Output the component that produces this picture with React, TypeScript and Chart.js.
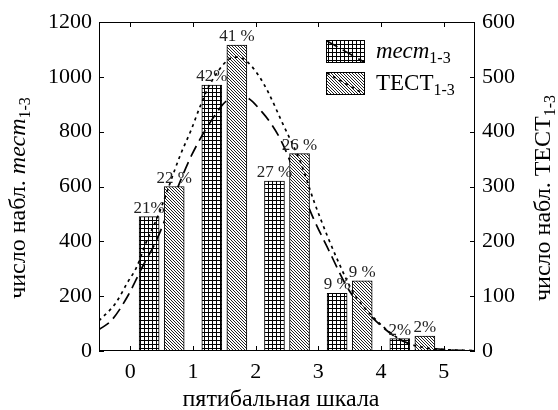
import React, { useEffect, useRef } from "react";
import { Chart, registerables } from "chart.js";

Chart.register(...registerables);

// ---- data ----
const scoreTicks = [0, 1, 2, 3, 4, 5];
const leftTicks = [0, 200, 400, 600, 800, 1000, 1200];
const rightTicks = [0, 100, 200, 300, 400, 500, 600];

const mectX = [0.3, 1.3, 2.3, 3.3, 4.3];
const mectCounts = [490, 970, 620, 210, 45];
const mectPct = ["21%", "42%", "27 %", "9 %", "2%"];

const tectX = [0.7, 1.7, 2.7, 3.7, 4.7];
const tectCounts = [300, 558, 360, 128, 27];
const tectPct = ["22 %", "41 %", "26 %", "9 %", "2%"];

const mectCurveX = [-0.5, -0.3, -0.05, 0.2, 0.42, 0.7, 0.98, 1.3, 1.55, 1.8, 2.1, 2.4, 2.65, 2.9, 3.15, 3.5, 3.87, 4.3, 4.7, 5.1, 5.5];
const mectCurveY = [78, 112, 197, 310, 405, 565, 715, 843, 915, 928, 872, 770, 635, 495, 375, 218, 120, 42, 14, 4, 1];

const tectCurveX = [-0.5, -0.23, -0.05, 0.1, 0.27, 0.43, 0.8, 0.97, 1.11, 1.25, 1.56, 1.72, 1.88, 2.05, 2.2, 2.43, 2.72, 2.93, 3.15, 3.33, 3.55, 3.84, 4.32, 4.7, 5.1, 5.5];
const tectCurveY = [55, 88, 124, 153, 203, 243, 358, 403, 445, 482, 531, 536, 526, 502, 472, 415, 343, 273, 208, 160, 108, 66, 20, 6, 2, 0.5];

const SERIF = '"Liberation Serif", "Times New Roman", "DejaVu Serif", serif';

function makeGridPattern(ctx: CanvasRenderingContext2D) {
  const c = document.createElement("canvas");
  c.width = 4;
  c.height = 4;
  const g = c.getContext("2d")!;
  g.fillStyle = "#fff";
  g.fillRect(0, 0, 4, 4);
  g.fillStyle = "#000";
  g.fillRect(0, 0, 4, 1);
  g.fillRect(0, 0, 1, 4);
  return ctx.createPattern(c, "repeat")!;
}

function makeHatchPattern(ctx: CanvasRenderingContext2D) {
  const c = document.createElement("canvas");
  c.width = 3;
  c.height = 3;
  const g = c.getContext("2d")!;
  g.fillStyle = "#fff";
  g.fillRect(0, 0, 3, 3);
  g.fillStyle = "#222";
  for (let i = 0; i < 3; i++) g.fillRect(i, i, 1, 1);
  return ctx.createPattern(c, "repeat")!;
}

type Part = { t: string; size: number; italic?: boolean; dy?: number };

function richWidth(ctx: CanvasRenderingContext2D, parts: Part[]) {
  let w = 0;
  for (const p of parts) {
    ctx.font = `${p.italic ? "italic " : ""}${p.size}px ${SERIF}`;
    w += ctx.measureText(p.t).width;
  }
  return w;
}

function drawRich(ctx: CanvasRenderingContext2D, parts: Part[], x: number, y: number, center: boolean) {
  let cx = center ? x - richWidth(ctx, parts) / 2 : x;
  ctx.textAlign = "left";
  ctx.textBaseline = "alphabetic";
  for (const p of parts) {
    ctx.font = `${p.italic ? "italic " : ""}${p.size}px ${SERIF}`;
    ctx.fillText(p.t, cx, y + (p.dy || 0));
    cx += ctx.measureText(p.t).width;
  }
}

const decorPlugin = {
  id: "decor",
  afterDatasetsDraw(chart: any) {
    const ctx: CanvasRenderingContext2D = chart.ctx;
    const xs = chart.scales.x;
    const ys = chart.scales.y;
    const ys1 = chart.scales.y1;
    ctx.save();
    ctx.fillStyle = "#222";
    ctx.font = `17px ${SERIF}`;
    ctx.textAlign = "center";
    ctx.textBaseline = "alphabetic";
    mectX.forEach((v, i) => {
      ctx.fillText(mectPct[i], xs.getPixelForValue(v), ys.getPixelForValue(mectCounts[i]) - 4);
    });
    tectX.forEach((v, i) => {
      ctx.fillText(tectPct[i], xs.getPixelForValue(v), ys1.getPixelForValue(tectCounts[i]) - 4);
    });
    ctx.restore();
  },
  afterDraw(chart: any) {
    const ctx: CanvasRenderingContext2D = chart.ctx;
    const { left, right, top, bottom } = chart.chartArea;
    const xs = chart.scales.x;
    const ys = chart.scales.y;
    const ys1 = chart.scales.y1;
    ctx.save();
    ctx.strokeStyle = "#000";
    ctx.lineWidth = 1;
    ctx.setLineDash([]);
    ctx.strokeRect(left + 0.5, top + 0.5, right - left - 1, bottom - top - 1);
    ctx.beginPath();
    scoreTicks.forEach((v) => {
      const px = Math.round(xs.getPixelForValue(v)) + 0.5;
      ctx.moveTo(px, bottom);
      ctx.lineTo(px, bottom - 5);
      ctx.moveTo(px, top);
      ctx.lineTo(px, top + 5);
    });
    leftTicks.forEach((v) => {
      const py = Math.round(ys.getPixelForValue(v)) + 0.5;
      ctx.moveTo(left, py);
      ctx.lineTo(left + 5, py);
    });
    rightTicks.forEach((v) => {
      const py = Math.round(ys1.getPixelForValue(v)) + 0.5;
      ctx.moveTo(right, py);
      ctx.lineTo(right - 5, py);
    });
    ctx.stroke();

    // axis titles
    ctx.fillStyle = "#000";
    drawRich(ctx, [{ t: "пятибальная шкала", size: 24 }], (left + right) / 2 - 6, 406, true);

    ctx.save();
    ctx.translate(25, 198);
    ctx.rotate(-Math.PI / 2);
    drawRich(
      ctx,
      [
        { t: "число набл. ", size: 24 },
        { t: "тест", size: 24, italic: true },
        { t: "1-3", size: 16, dy: 5 },
      ],
      0,
      0,
      true
    );
    ctx.restore();

    ctx.save();
    ctx.translate(550, 198);
    ctx.rotate(-Math.PI / 2);
    drawRich(
      ctx,
      [
        { t: "число набл. ", size: 24 },
        { t: "ТЕСТ", size: 24 },
        { t: "1-3", size: 16, dy: 5 },
      ],
      0,
      0,
      true
    );
    ctx.restore();

    // legend
    const boxes = [
      { y: 40, fill: makeGridPattern(ctx), dash: [12, 6], parts: [{ t: "тест", size: 23, italic: true }, { t: "1-3", size: 16, dy: 5 }] as Part[] },
      { y: 72, fill: makeHatchPattern(ctx), dash: [3, 4], parts: [{ t: "ТЕСТ", size: 23 }, { t: "1-3", size: 16, dy: 5 }] as Part[] },
    ];
    boxes.forEach((b) => {
      const bx = 326;
      const bw = 38;
      const bh = 22;
      ctx.fillStyle = b.fill;
      ctx.fillRect(bx, b.y, bw, bh);
      ctx.setLineDash([]);
      ctx.lineWidth = 1;
      ctx.strokeStyle = "#000";
      ctx.strokeRect(bx + 0.5, b.y + 0.5, bw, bh);
      ctx.lineWidth = 1.6;
      ctx.setLineDash(b.dash);
      ctx.beginPath();
      ctx.moveTo(bx + 1, b.y + 1);
      ctx.lineTo(bx + bw, b.y + bh);
      ctx.stroke();
      ctx.setLineDash([]);
      ctx.fillStyle = "#000";
      drawRich(ctx, b.parts, 376, b.y + 18, false);
    });
    ctx.restore();
  },
};

export default function App() {
  const ref = useRef<HTMLCanvasElement | null>(null);

  useEffect(() => {
    const canvas = ref.current!;
    const ctx = canvas.getContext("2d")!;
    const gridPattern = makeGridPattern(ctx);
    const hatchPattern = makeHatchPattern(ctx);
    const tickFont = { family: SERIF, size: 22 };

    const chart = new Chart(canvas, {
      type: "bar",
      data: {
        datasets: [
          {
            type: "line",
            label: "тест1-3 curve",
            data: mectCurveX.map((x, i) => ({ x, y: mectCurveY[i] })),
            yAxisID: "y",
            borderColor: "#000",
            borderWidth: 1.7,
            borderDash: [12, 6],
            pointRadius: 0,
            cubicInterpolationMode: "monotone",
            fill: false,
            order: 3,
          } as any,
          {
            type: "line",
            label: "ТЕСТ1-3 curve",
            data: tectCurveX.map((x, i) => ({ x, y: tectCurveY[i] })),
            yAxisID: "y1",
            borderColor: "#000",
            borderWidth: 1.7,
            borderDash: [3, 4],
            pointRadius: 0,
            cubicInterpolationMode: "monotone",
            fill: false,
            order: 1,
          } as any,
          {
            type: "bar",
            label: "тест1-3",
            data: mectX.map((x, i) => ({ x, y: mectCounts[i] })),
            yAxisID: "y",
            backgroundColor: gridPattern,
            borderColor: "#000",
            borderWidth: 1,
            barThickness: 20,
            grouped: false,
            order: 4,
          } as any,
          {
            type: "bar",
            label: "ТЕСТ1-3",
            data: tectX.map((x, i) => ({ x, y: tectCounts[i] })),
            yAxisID: "y1",
            backgroundColor: hatchPattern,
            borderColor: "#000",
            borderWidth: 1,
            barThickness: 20,
            grouped: false,
            order: 2,
          } as any,
        ],
      },
      options: {
        animation: false,
        responsive: true,
        maintainAspectRatio: false,
        layout: { padding: { top: 22, left: 0, right: 0, bottom: 0 } },
        plugins: { legend: { display: false }, tooltip: { enabled: false } },
        scales: {
          x: {
            type: "linear",
            min: -0.5,
            max: 5.5,
            offset: false,
            afterBuildTicks: (s: any) => {
              s.ticks = scoreTicks.map((v) => ({ value: v }));
            },
            afterFit: (s: any) => {
              s.height = 59;
            },
            ticks: { font: tickFont, color: "#000", padding: 8, callback: (v: any) => String(v) },
            grid: { display: false, drawTicks: false, tickLength: 0 },
            border: { display: false },
          },
          y: {
            type: "linear",
            position: "left",
            min: 0,
            max: 1200,
            afterBuildTicks: (s: any) => {
              s.ticks = leftTicks.map((v) => ({ value: v }));
            },
            afterFit: (s: any) => {
              s.width = 99;
            },
            ticks: { font: tickFont, color: "#000", padding: 7, callback: (v: any) => String(v) },
            grid: { display: false, drawTicks: false, tickLength: 0 },
            border: { display: false },
          },
          y1: {
            type: "linear",
            position: "right",
            min: 0,
            max: 600,
            afterBuildTicks: (s: any) => {
              s.ticks = rightTicks.map((v) => ({ value: v }));
            },
            afterFit: (s: any) => {
              s.width = 83;
            },
            ticks: { font: tickFont, color: "#000", padding: 7, callback: (v: any) => String(v) },
            grid: { display: false, drawTicks: false, tickLength: 0 },
            border: { display: false },
          },
        },
      } as any,
      plugins: [decorPlugin as any],
    });
    return () => chart.destroy();
  }, []);

  return (
    <div style={{ position: "fixed", left: 0, top: 0, width: 558, height: 410, background: "#fff" }}>
      <canvas ref={ref} />
    </div>
  );
}
